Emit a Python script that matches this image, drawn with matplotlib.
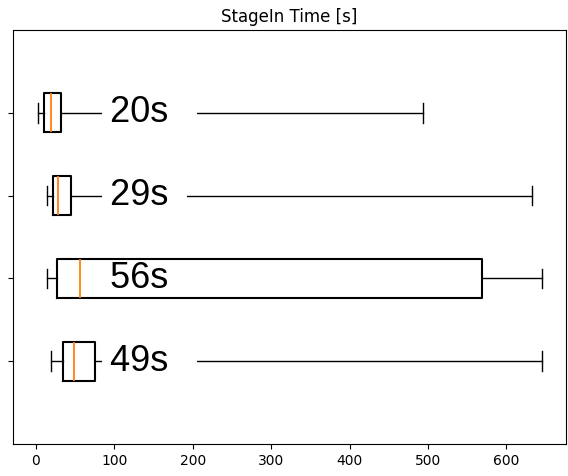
import matplotlib
matplotlib.use('Agg')
import matplotlib.pyplot as plt

# box stats, bottom to top
labels = ['49s', '56s', '29s', '20s']
whislo = [19, 14, 14, 3]
q1 = [35, 27, 22.5, 10]
med = [49, 56, 29, 20]
q3 = [75, 569, 45.5, 32]
whishi = [645, 645, 633, 494]
positions = [1, 2, 3, 4]

stats = []
for i in range(len(labels)):
    stats.append(dict(whislo=whislo[i], q1=q1[i], med=med[i], q3=q3[i],
                      whishi=whishi[i], fliers=[]))

dpi = 100
fig = plt.figure(figsize=(568 / dpi, 476 / dpi), dpi=dpi)
ax = fig.add_axes([13 / 568, 32 / 476, 553 / 568, 414 / 476])

bp = ax.bxp(stats, positions=positions, vert=False, widths=0.47, showfliers=False,
            boxprops=dict(linewidth=1.5), medianprops=dict(linewidth=1.3))
# boxes and medians above the label patches, whiskers below
for art in bp['boxes'] + bp['medians']:
    art.set_zorder(4)

# white gap after each label (in spaces)
tail = [2, 2, 1, 2]
for pos, lab, n in zip(positions, labels, tail):
    ax.text(95, pos, lab + ' ' * n, fontsize=26, family='Liberation Sans',
            ha='left', va='center', zorder=3,
            bbox=dict(facecolor='white', edgecolor='none', pad=6))

ax.set_ylim(0, 5)
ax.set_xlim(-29, 676)
ax.set_yticks(positions)
ax.set_yticklabels([])
ax.set_xticks([0, 100, 200, 300, 400, 500, 600])
ax.set_title('StageIn Time [s]')

fig.savefig('out.png', dpi=dpi)
plt.close(fig)
